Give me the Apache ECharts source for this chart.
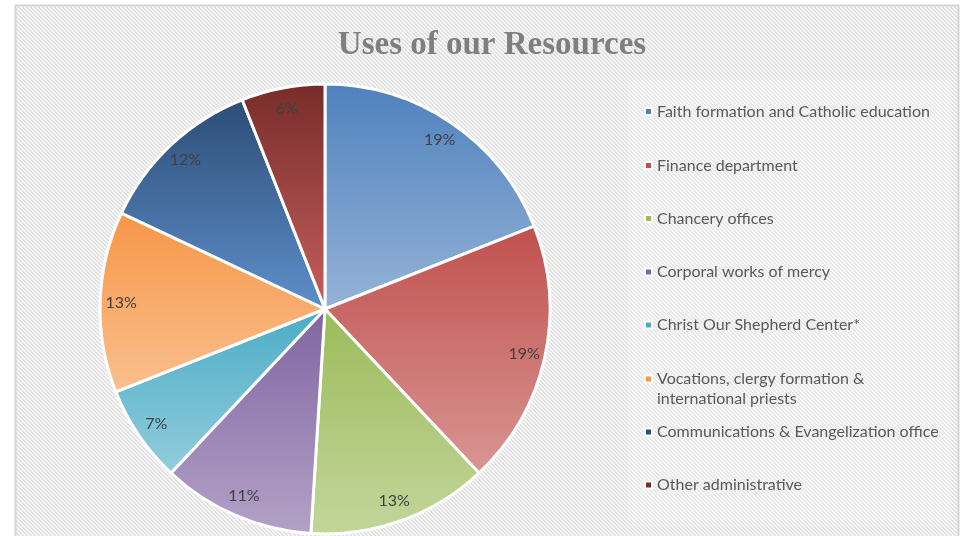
<!DOCTYPE html>
<html>
<head>
<meta charset="utf-8">
<script src="https://cdn.jsdelivr.net/npm/echarts@6/dist/echarts.min.js"></script>
<style>
  html, body { margin: 0; padding: 0; background: #fff; }
  #chart { width: 967px; height: 536px; }
</style>
</head>
<body>
<div id="chart"></div>
<script>
// data
const categories = [
  'Faith formation and Catholic education',
  'Finance department',
  'Chancery offices',
  'Corporal works of mercy',
  'Christ Our Shepherd Center*',
  'Vocations, clergy formation & international priests',
  'Communications & Evangelization office',
  'Other administrative'
];
const shares = [19, 19, 13, 11, 7, 13, 12, 6];

// colours (top of slice -> bottom of slice)
const topColors = ['#4F81BD', '#C0504D', '#9BBB59', '#8064A2', '#4BACC6', '#F79646', '#2C4D75', '#772C2A'];
const bottomColors = ['#95B3D7', '#D99694', '#C3D69B', '#B3A2C7', '#93CDDD', '#FAC090', '#5E8FCB', '#C5605E'];

// legend row centres (layout only)
const legendRows = [111.5, 165.5, 218.5, 272, 325, 379, 432, 485];

const font = 'Lato';

// hatched background tile
const tile = document.createElement('canvas');
tile.width = 4; tile.height = 4;
const g = tile.getContext('2d');
g.fillStyle = '#f6f6f6';
g.fillRect(0, 0, 4, 4);
for (let i = 0; i < 4; i++) {
  g.fillStyle = '#dcdcdc';
  g.fillRect(i, i, 1, 1);
  g.fillStyle = '#e9e9e9';
  g.fillRect(i, (i + 1) % 4, 1, 1);
}

const myChart = echarts.init(document.getElementById('chart'));

const pieCenter = [325, 309];
const pieR = 225;

const option = {
  animation: false,
  backgroundColor: '#fff',
  graphic: [
    {
      type: 'rect', z: -10,
      shape: { x: 15.5, y: 5.5, width: 943, height: 560 },
      style: { fill: { image: tile, repeat: 'repeat' }, stroke: '#d6d6d6', lineWidth: 2 }
    },
    {
      type: 'rect', z: -9,
      shape: { x: 628, y: 80, width: 324, height: 442 },
      style: { fill: 'rgba(255,255,255,0.22)' }
    }
  ],
  title: {
    text: 'Uses of our Resources',
    left: 487,
    top: 24,
    textAlign: 'center',
    textStyle: {
      fontFamily: 'Liberation Serif',
      fontWeight: 'bold',
      fontSize: 33,
      color: '#7f7f7f'
    }
  },
  legend: categories.map((name, i) => ({
    orient: 'vertical',
    left: 644,
    top: i === 5 ? legendRows[i] - 30 : legendRows[i] - 10,
    padding: 0,
    icon: 'rect',
    itemWidth: 7,
    itemHeight: 7,
    itemGap: 5,
    selectedMode: false,
    // long name: leading blank line keeps the first line level with the marker
    formatter: n => i === 5 ? ' \n' + n.replace('& international', '&\ninternational') : n,
    textStyle: { fontFamily: font, fontSize: 16, color: '#595959', lineHeight: 20 },
    data: [{ name: name, itemStyle: { color: topColors[i] } }]
  })),
  series: [
    {
      name: 'Uses',
      type: 'pie',
      center: pieCenter,
      radius: pieR,
      startAngle: 90,
      clockwise: true,
      label: { show: false },
      labelLine: { show: false },
      emphasis: { disabled: true },
      itemStyle: { borderColor: '#fff', borderWidth: 3 },
      data: categories.map((name, i) => ({
        name: name,
        value: shares[i],
        itemStyle: {
          color: {
            type: 'linear', x: 0, y: 0, x2: 0, y2: 1,
            colorStops: [
              { offset: 0, color: topColors[i] },
              { offset: 1, color: bottomColors[i] }
            ]
          }
        }
      }))
    },
    {
      // label ring: places the percentages near the outer edge
      name: 'labels',
      type: 'pie',
      center: pieCenter,
      radius: [177, pieR],
      startAngle: 90,
      clockwise: true,
      silent: true,
      emphasis: { disabled: true },
      itemStyle: { color: 'transparent', borderWidth: 0 },
      label: {
        show: true,
        position: 'inside',
        formatter: '{c}%',
        fontFamily: font,
        fontSize: 16,
        color: '#404040'
      },
      labelLine: { show: false },
      data: categories.map((name, i) => ({ name: name, value: shares[i] }))
    }
  ]
};

myChart.setOption(option);
</script>
</body>
</html>
